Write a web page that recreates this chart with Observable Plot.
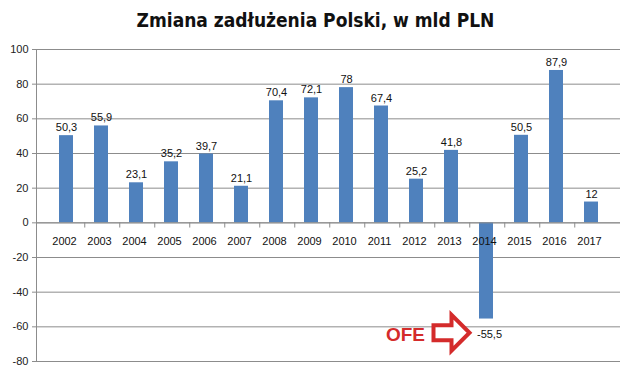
<!DOCTYPE html>
<html>
<head>
<meta charset="utf-8">
<script src="https://cdn.jsdelivr.net/npm/d3@7"></script>
<script src="https://cdn.jsdelivr.net/npm/@observablehq/plot@0.6"></script>
<style>
  html, body { margin: 0; padding: 0; background: #fff; }
  #wrap { width: 620px; height: 379px; overflow: hidden; }
  #title { height: 38px; padding-top: 2px; line-height: 37px; text-align: center; padding-left: 11px; font-family: "DejaVu Sans", sans-serif; font-stretch: condensed; font-weight: bold; font-size: 19px; color: #111; }
  svg { display: block; }
</style>
</head>
<body>
<div id="wrap">
  <div id="title">Zmiana zadłużenia Polski, w mld PLN</div>
  <div id="chart"></div>
</div>
<script>
const years = ["2002","2003","2004","2005","2006","2007","2008","2009","2010","2011","2012","2013","2014","2015","2016","2017"];
const values = [50.3, 55.9, 23.1, 35.2, 39.7, 21.1, 70.4, 72.1, 78, 67.4, 25.2, 41.8, -55.5, 50.5, 87.9, 12];
const yTicks = [-80, -60, -40, -20, 0, 20, 40, 60, 80, 100];
const annotationText = [{ year: "2012", value: -64, label: "OFE" }];
const annotationArrow = [{ year: "2013", value: -64 }];

const data = years.map((y, i) => ({ year: y, value: values[i] }));
const fmt = v => String(v).replace(".", ",");
const font = "Liberation Sans, Arial, sans-serif";
const red = "#d42b2b";

// block-arrow outline symbol pointing right
const arrowSymbol = {
  draw(context, size) {
    const r = Math.sqrt(size / Math.PI);
    const sh = r * 0.42;
    context.moveTo(-r, -sh);
    context.lineTo(0, -sh);
    context.lineTo(0, -r);
    context.lineTo(r, 0);
    context.lineTo(0, r);
    context.lineTo(0, sh);
    context.lineTo(-r, sh);
    context.closePath();
  }
};

const chart = Plot.plot({
  width: 620,
  height: 339,
  marginTop: 9,
  marginBottom: 18,
  marginLeft: 36,
  marginRight: 0,
  style: { fontFamily: font, fontSize: "11px", color: "#222", background: "#fff" },
  x: { type: "band", domain: years, padding: 0.6, axis: null },
  y: { domain: [-80, 100], ticks: yTicks, axis: null },
  marks: [
    Plot.gridY(yTicks, { stroke: "#8c8c8c", strokeOpacity: 1, strokeWidth: 1 }),
    Plot.axisY(yTicks, { label: null, tickSize: 4, tickPadding: 4, stroke: "#8c8c8c", fill: "#222", fontSize: 11, tickFormat: d => String(d) }),
    Plot.frame({ anchor: "left", stroke: "#8c8c8c" }),
    Plot.barY(data, { x: "year", y: "value", fill: "#4f81bd" }),
    Plot.ruleY([0], { stroke: "#8c8c8c" }),
    Plot.ruleX(years.slice(0, -1), { x: d => d, y1: 0, y2: -3, dx: 18.25, stroke: "#8c8c8c" }),
    Plot.text(years, { x: d => d, y: 0, text: d => d, dy: 19, dx: -2, fontSize: 11, fill: "#111" }),
    Plot.text(data.filter(d => d.value >= 0), {
      x: "year", y: "value", text: d => fmt(d.value), dy: -8, fontSize: 11, fill: "#111"
    }),
    Plot.text(data.filter(d => d.value < 0), {
      x: "year", y: "value", text: d => fmt(d.value), dy: 15, dx: 3, fontSize: 11, fill: "#111"
    }),
    Plot.text(annotationText, { x: "year", y: "value", text: "label", dx: -11, dy: 1, fill: red, fontWeight: "bold", fontSize: 19, fontFamily: "Liberation Sans, Arial, sans-serif" }),
    Plot.dot(annotationArrow, { x: "year", y: "value", symbol: arrowSymbol, r: 18, dx: 0, dy: -1, stroke: red, strokeWidth: 4, fill: "white" })
  ]
});
document.getElementById("chart").appendChild(chart);
</script>
</body>
</html>
